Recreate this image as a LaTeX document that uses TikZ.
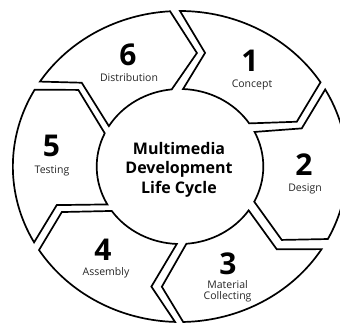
\documentclass[tikz,border=0pt]{standalone}
\usepackage{fontspec}
\setmainfont{Open Sans}
\begin{document}
\begin{tikzpicture}[x=1pt,y=1pt,
  seg/.style={draw=black, fill=white, line width=1.7pt},
  num/.style={font=\fontsize{30}{30}\selectfont\bfseries, anchor=base, inner sep=0pt},
  lbl/.style={font=\fontsize{10.5}{10.6}\selectfont, anchor=base, inner sep=0pt, text=black!85},
  lbltwo/.style={font=\fontsize{10.5}{10.6}\selectfont, align=center, inner sep=0pt, text=black!85},
  title/.style={font=\fontsize{16}{19.6}\selectfont\bfseries, align=center, inner sep=0pt}]
\useasboundingbox (0,0) rectangle (340,-324);
\fill[white] (0,0) rectangle (340,-324);
\clip (0,0) rectangle (340,-324);
\begin{scope}[shift={(180,-166.5)}, xscale=1.075]
% segment 1
\draw[seg] (90:155.5) arc[start angle=90,end angle=32.8,radius=155.5] -- (22.4:117.5) -- (33.8:77.5) arc[start angle=33.8,end angle=87.9,radius=77.5] -- (78.4:116) -- cycle;
% segment 2
\draw[seg] (29.7:155.5) arc[start angle=29.7,end angle=-27.8,radius=155.5] -- (-37.8:119.8) -- (-27:77.5) arc[start angle=-27,end angle=26.5,radius=77.5] -- (18.6:119.5) -- cycle;
% segment 3
\draw[seg] (-32.1:155.5) arc[start angle=-32.1,end angle=-88.9,radius=155.5] -- (-98:121.4) -- (-85.6:77.5) arc[start angle=-85.6,end angle=-34.5,radius=77.5] -- (-42.6:122.3) -- cycle;
% segment 4
\draw[seg] (-91.7:155.5) arc[start angle=-91.7,end angle=-147.5,radius=155.5] -- (-157.5:119) -- (-145:77.5) arc[start angle=-145,end angle=-92.2,radius=77.5] -- (-102.5:123) -- cycle;
% segment 5
\draw[seg] (-150.8:155.5) arc[start angle=-150.8,end angle=-209.6,radius=155.5] -- (-219:121.7) -- (-205.4:77.5) arc[start angle=-205.4,end angle=-150.7,radius=77.5] -- (-161.4:121) -- cycle;
% segment 6
\draw[seg] (146.9:155.5) arc[start angle=146.9,end angle=93.4,radius=155.5] -- (82.1:114.6) -- (95.7:77.5) arc[start angle=95.7,end angle=148.6,radius=77.5] -- (137.5:124) -- cycle;
\end{scope}
\node[title] (center) at (179,-169.5) {Multimedia\\Development\\Life Cycle};
\node[num] (n1) at (250,-71.7) {1};
\node[lbl] (l1) at (252,-87.3) {Concept};
\node[num] (n2) at (304,-175) {2};
\node[lbl] (l2) at (305,-191.7) {Design};
\node[num] (n3) at (228,-274) {3};
\node[lbltwo] (l3) at (227.6,-291.2) {Material\\Collecting};
\node[num] (n4) at (103,-260) {4};
\node[lbl] (l4) at (106,-275.3) {Assembly};
\node[num] (n5) at (51.5,-156.7) {5};
\node[lbl] (l5) at (52,-173.3) {Testing};
\node[num] (n6) at (128,-65) {6};
\node[lbl] (l6) at (129,-81.7) {Distribution};
\end{tikzpicture}
\end{document}
